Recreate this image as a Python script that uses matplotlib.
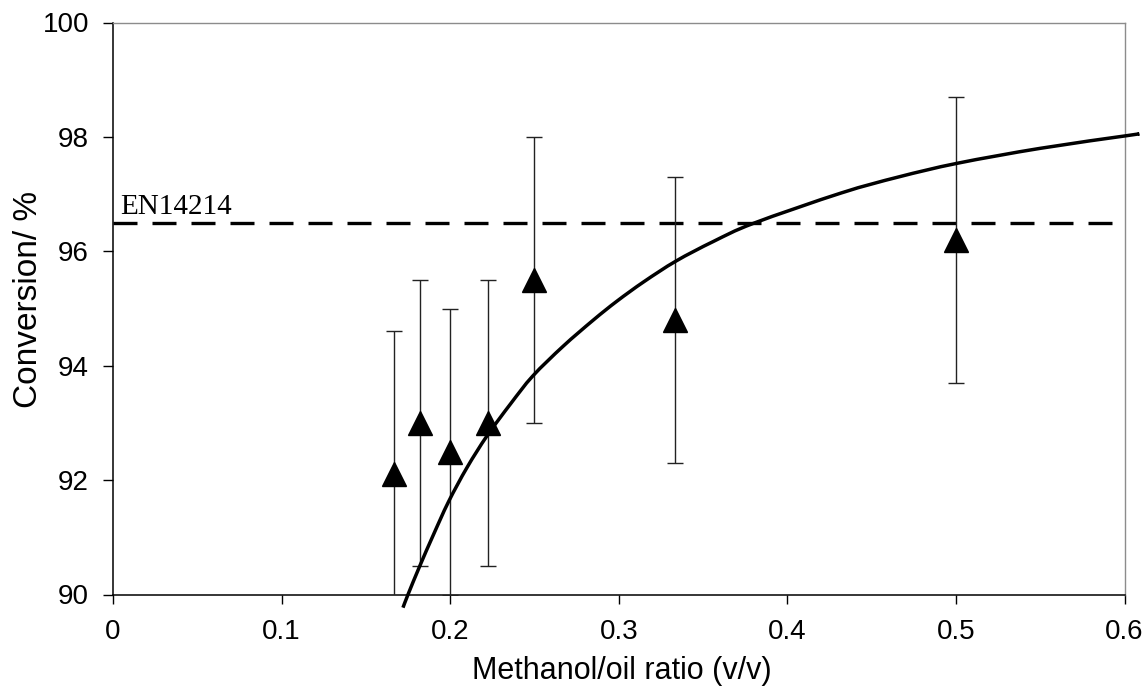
import numpy as np
import matplotlib
matplotlib.use('Agg')
import matplotlib.pyplot as plt
from matplotlib.path import Path
from matplotlib.patches import PathPatch

# measured conversion vs methanol/oil ratio
ratio = [1 / 6, 2 / 11, 0.2, 2 / 9, 0.25, 1 / 3, 0.5]
conversion = [92.1, 93.0, 92.5, 93.0, 95.5, 94.8, 96.2]
err = [2.5, 2.5, 2.5, 2.5, 2.5, 2.5, 2.5]

# fitted model curve, read point by point
fit_x = [0.172, 0.175, 0.182, 0.190, 0.199, 0.210, 0.222, 0.236, 0.249, 0.267,
         0.285, 0.299, 0.315, 0.334, 0.356, 0.380, 0.432, 0.466, 0.501, 0.550,
         0.601, 0.608]
fit_y = [89.77, 90.0, 90.50, 91.04, 91.62, 92.22, 92.78, 93.34, 93.82, 94.34,
         94.80, 95.13, 95.47, 95.83, 96.17, 96.49, 97.02, 97.30, 97.54, 97.80,
         98.02, 98.05]

en_limit = 96.5
x_ticks = [0, 0.1, 0.2, 0.3, 0.4, 0.5, 0.6]
x_labels = ['0', '0.1', '0.2', '0.3', '0.4', '0.5', '0.6']
y_ticks = [90, 92, 94, 96, 98, 100]


def smooth_path(xs, ys):
    # smoothed line through the points (catmull-rom segments as cubic beziers)
    p = np.column_stack([xs, ys])
    verts = [p[0]]
    codes = [Path.MOVETO]
    n = len(p)
    for i in range(n - 1):
        p0 = p[i - 1] if i > 0 else p[i]
        p1, p2 = p[i], p[i + 1]
        p3 = p[i + 2] if i + 2 < n else p[i + 1]
        c1 = p1 + (p2 - p0) / 6.0
        c2 = p2 - (p3 - p1) / 6.0
        verts += [c1, c2, p2]
        codes += [Path.CURVE4] * 3
    return Path(verts, codes)


plt.rcParams['font.family'] = ['Liberation Sans', 'DejaVu Sans']

W, H = 1147, 691
fig = plt.figure(figsize=(W / 100, H / 100), dpi=100)
ax = fig.add_axes([113 / W, 1 - 594.5 / H, (1124.5 - 113) / W, (594.5 - 22.5) / H])

ax.axhline(en_limit, color='black', lw=2.4, dashes=(7.2, 4.5), zorder=2)
ax.text(0.0045, 96.65, 'EN14214', family=['Liberation Serif', 'DejaVu Serif'],
        fontsize=21, va='baseline', ha='left')

ax.errorbar(ratio, conversion, yerr=err, fmt='none', ecolor='#222222',
            elinewidth=1.0, capsize=5.5, capthick=1.0, zorder=3)
curve = PathPatch(smooth_path(fit_x, fit_y), facecolor='none', edgecolor='black',
                  lw=2.5, clip_on=False, zorder=4, capstyle='butt')
ax.add_patch(curve)
ax.plot(ratio, conversion, ls='none', marker='^', ms=17, color='black', zorder=5)

ax.set_xlim(0, 0.6)
ax.set_ylim(90, 100)
ax.set_xticks(x_ticks)
ax.set_xticklabels(x_labels)
ax.set_yticks(y_ticks)

for side in ['top', 'right']:
    ax.spines[side].set_color('#8c8c8c')
    ax.spines[side].set_linewidth(1.0)
for side in ['left', 'bottom']:
    ax.spines[side].set_color('black')
    ax.spines[side].set_linewidth(1.1)

ax.tick_params(axis='y', direction='out', length=7.2, width=1, labelsize=20, pad=10)
ax.tick_params(axis='x', direction='out', length=6.5, width=1, labelsize=20, pad=11)

ax.set_xlabel('Methanol/oil ratio (v/v)', fontsize=22)
ax.set_ylabel('Conversion/ %', fontsize=24)
ax.xaxis.set_label_coords(0.503, -0.1075)
ax.yaxis.set_label_coords(-0.068, 0.515)

fig.savefig('out.png', dpi=100)
